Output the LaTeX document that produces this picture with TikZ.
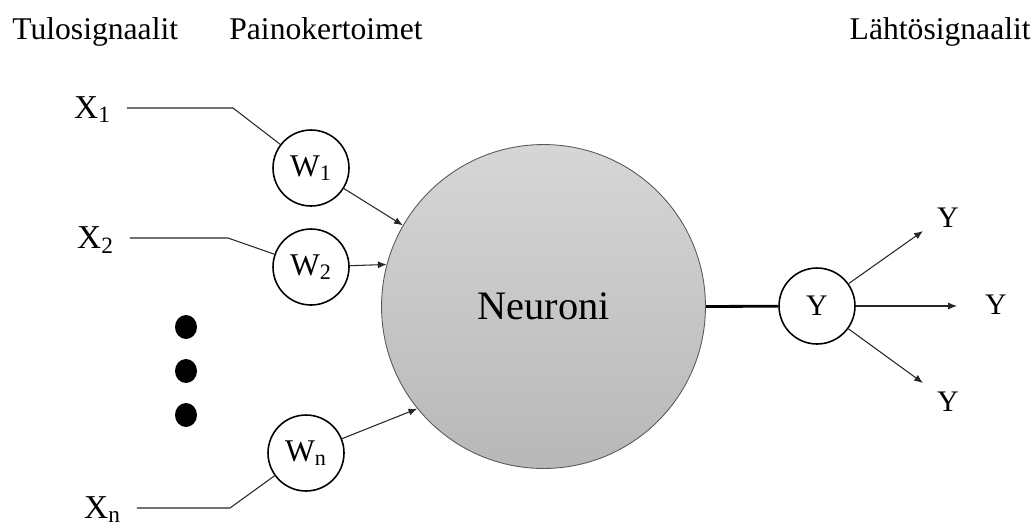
\documentclass[tikz,border=0pt]{standalone}
\usepackage{fontspec}
\setmainfont{Liberation Serif}
\usetikzlibrary{arrows.meta}

\begin{document}
\begin{tikzpicture}[x=0.02cm, y=-0.02cm,
		head/.style={inner sep=0pt, font=\fontsize{18}{21}\selectfont},
		inlabel/.style={inner ysep=0pt, inner xsep=9pt, font=\fontsize{19}{22}\selectfont},
		weight/.style={circle, draw=black, line width=0.9pt, minimum size=1.52cm, inner sep=0pt, font=\fontsize{18}{21}\selectfont},
		outlabel/.style={inner sep=0pt, font=\fontsize{17}{20}\selectfont},
		wire/.style={draw=black!85, line width=0.6pt},
		arrow/.style={wire, -{Latex[length=5pt,width=4pt]}}]

				\useasboundingbox (0,0) rectangle (1034,525);

				\node[head, anchor=base west] (tulo) at (12,39) {Tulosignaalit};
				\node[head, anchor=base west] (paino) at (229,39) {Painokertoimet};
				\node[head, anchor=base east] (lahto) at (1031,39) {Lähtösignaalit};

				\node[circle, draw=black!65, line width=0.5pt, minimum size=6.48cm, top color=black!16, bottom color=black!28, font=\fontsize{23}{26}\selectfont] (neuron) at (543.5,306.5) {Neuroni};

				\node[inlabel, anchor=base west] (x1) at (58,118) {X\textsubscript{1}};
				\node[weight] (w1) at (311,168) {W\textsubscript{1}};
				\coordinate (b1) at (233,108);
				\draw[wire] (x1.east |- b1) -- (b1) -- (w1);
				\draw[arrow] (w1) -- (neuron.150);

				\node[inlabel, anchor=base west] (x2) at (61,248) {X\textsubscript{2}};
				\node[weight] (w2) at (311,267) {W\textsubscript{2}};
				\coordinate (b2) at (228,238);
				\draw[wire] (x2.east |- b2) -- (b2) -- (w2);
				\draw[arrow] (w2) -- (neuron.165.5);

				\foreach \yy in {327,371,415}
					\fill (186,\yy) ellipse (0.22cm and 0.24cm);

				\node[inlabel, anchor=base west] (xn) at (68,518) {X\textsubscript{n}};
				\node[weight] (wn) at (306,453) {W\textsubscript{n}};
				\coordinate (bn) at (230,508);
				\draw[wire] (xn.east |- bn) -- (bn) -- (wn);
				\draw[arrow] (wn) -- (neuron.219);

				\node[weight, font=\fontsize{17}{20}\selectfont] (yout) at (817,306) {Y};
				\draw[line width=1.6pt] (neuron.east) -- (yout);

				\coordinate (ya) at (923,231);
				\coordinate (yb) at (957,306);
				\coordinate (yc) at (923,383);
				\draw[arrow] (yout) -- (ya);
				\draw[arrow] (yout) -- (yb);
				\draw[arrow] (yout) -- (yc);
				\node[outlabel] (ylaba) at (948,218) {Y};
				\node[outlabel] (ylabb) at (996,305) {Y};
				\node[outlabel] (ylabc) at (948,402) {Y};
			\end{tikzpicture}
\end{document}
